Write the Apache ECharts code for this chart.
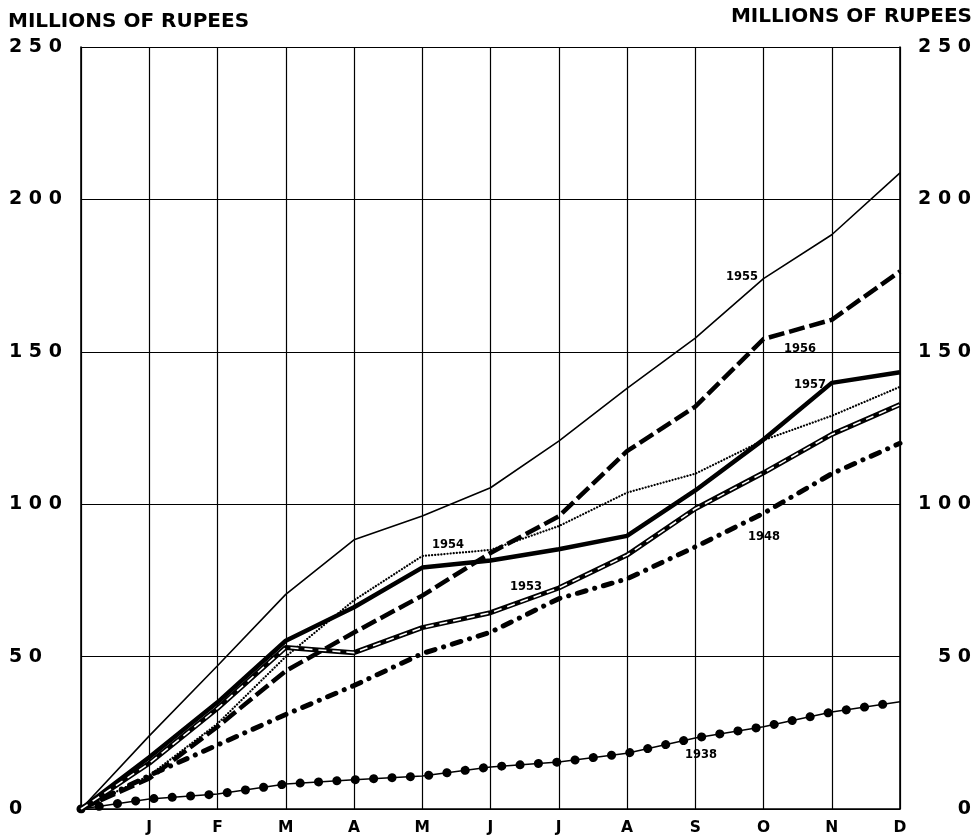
<!DOCTYPE html>
<html>
<head>
<meta charset="utf-8">
<script src="https://cdn.jsdelivr.net/npm/echarts@6/dist/echarts.min.js"></script>
<style>
html,body{margin:0;padding:0;background:#fff;}
#c{width:977px;height:836px;}
</style>
</head>
<body>
<div id="c"></div>
<script>
// ---- data ----
var months = ['', 'J', 'F', 'M', 'A', 'M', 'J', 'J', 'A', 'S', 'O', 'N', 'D'];
var yTicks = [0, 50, 100, 150, 200, 250];
var y1938 = [0, 3.3, 4.9, 8.2, 9.6, 10.8, 13.8, 15.4, 18.3, 23.3, 27, 31.8, 35.2];
var y1948 = [0, 11, 21, 31, 40.5, 51, 58, 69, 75.5, 86, 97, 110, 120];
var y1953 = [0, 15, 33, 53, 51.3, 59.5, 64.4, 72.5, 83.3, 98.5, 110.3, 122.9, 132.7];
var y1954 = [0, 11, 28, 50, 68.5, 83, 85, 92.8, 103.8, 110, 121, 129, 138.5];
var y1955 = [0, 24, 47, 70.4, 88.3, 96.1, 105.4, 120.7, 138, 154.5, 174, 188.4, 208.7];
var y1956 = [0, 10, 27, 45.3, 57.9, 70, 84, 96, 117.4, 132, 154.2, 160.5, 176.4];
var y1957 = [0, 17, 35, 55.2, 66.2, 79.2, 81.5, 85.2, 89.6, 104.5, 121.2, 139.8, 143.3];
var unitName = 'MILLIONS OF RUPEES';

function pts(arr) { return arr.map(function (v, i) { return [i, v]; }); }

var chart = echarts.init(document.getElementById('c'), null, { renderer: 'canvas' });
var labFont = { fontFamily: 'DejaVu Sans', fontWeight: 'bold', fontSize: 19, color: '#000' };
function spaced(v) { return String(v).split('').join(' '); }

function lineSeries(data, style, z) {
  return {
    type: 'line', data: pts(data), symbol: 'none', silent: true, z: z || 2,
    lineStyle: style, animation: false
  };
}

var series = [
  lineSeries(y1938, { color: '#000', width: 1.5 }, 2),
  lineSeries(y1938, { color: '#000', width: 9, type: [0.1, 18.3], cap: 'round' }, 3),
  lineSeries(y1948, { color: '#000', width: 5, type: [9, 9, 0.1, 9], cap: 'round' }, 3),
  lineSeries(y1953, { color: '#000', width: 5 }, 3),
  lineSeries(y1953, { color: '#fff', width: 1.6, type: [8, 6] }, 4),
  lineSeries(y1954, { color: '#000', width: 2.2, type: [0.1, 3], cap: 'round' }, 3),
  lineSeries(y1955, { color: '#000', width: 1.6 }, 3),
  lineSeries(y1956, { color: '#000', width: 4.5, type: [16, 5] }, 3),
  lineSeries(y1957, { color: '#000', width: 4.5, join: 'round' }, 3)
];

var yearLabels = [
  ['1955', 742, 277], ['1956', 800, 349], ['1957', 810, 385],
  ['1954', 448, 545], ['1953', 526, 587], ['1948', 764, 537], ['1938', 701, 755]
];

var graphics = yearLabels.map(function (l) {
  return {
    type: 'text', x: l[1], y: l[2], z: 10,
    style: { text: l[0], fontFamily: 'DejaVu Sans', fontWeight: 'bold', fontSize: 11.5, fill: '#000', align: 'center', verticalAlign: 'middle' }
  };
});
graphics.push({ type: 'text', left: 8, top: 12, style: { text: unitName, fontFamily: 'DejaVu Sans', fontWeight: 'bold', fontSize: 20, fill: '#000' } });
graphics.push({ type: 'text', right: 5, top: 7, style: { text: unitName, fontFamily: 'DejaVu Sans', fontWeight: 'bold', fontSize: 20, fill: '#000' } });

var yAxisCommon = {
  type: 'value', min: 0, max: 250, interval: 50,
  axisLine: { show: true, lineStyle: { color: '#000', width: 1.6 } },
  axisTick: { show: false },
  splitLine: { show: true, lineStyle: { color: '#000', width: 1.2 } }
};

chart.setOption({
  animation: false,
  backgroundColor: '#fff',
  grid: { left: 81, right: 77, top: 47, bottom: 26, containLabel: false },
  xAxis: {
    type: 'value', min: 0, max: 12, interval: 1,
    axisLine: { show: true, onZero: false, lineStyle: { color: '#000', width: 1.6 } },
    axisTick: { show: false },
    splitLine: { show: true, lineStyle: { color: '#000', width: 1.2 } },
    axisLabel: {
      margin: 11, fontFamily: 'DejaVu Sans', fontWeight: 'bold', fontSize: 15.5, color: '#000',
      formatter: function (v) { return months[v] || ''; }
    }
  },
  yAxis: [
    Object.assign({}, yAxisCommon, {
      position: 'left',
      axisLabel: Object.assign({}, labFont, { align: 'left', margin: 72, formatter: spaced })
    }),
    Object.assign({}, yAxisCommon, {
      position: 'right',
      splitLine: { show: false },
      axisLabel: Object.assign({}, labFont, { align: 'right', margin: 71, formatter: spaced })
    })
  ],
  series: series,
  graphic: graphics
});
</script>
</body>
</html>
